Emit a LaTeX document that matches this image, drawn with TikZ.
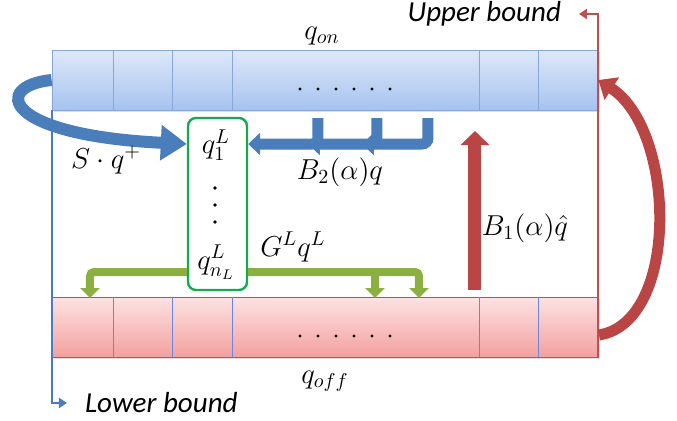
\documentclass[tikz,border=0pt]{standalone}
\usepackage{amsmath}
\usepackage{fontspec}
\setsansfont{Carlito}
\usetikzlibrary{arrows.meta,positioning,shadows}
\definecolor{barblue}{RGB}{137,166,214}
\definecolor{onlight}{RGB}{222,233,250}
\definecolor{ondark}{RGB}{166,194,239}
\definecolor{offred}{RGB}{192,80,77}
\definecolor{offlight}{RGB}{253,226,226}
\definecolor{offdark}{RGB}{244,160,160}
\definecolor{arrblue}{RGB}{74,126,187}
\definecolor{arrred}{RGB}{185,70,68}
\definecolor{arrgreen}{RGB}{140,175,65}
\definecolor{boxgreen}{RGB}{20,170,80}

\begin{document}
\begin{tikzpicture}[x=0.5pt,y=-0.5pt,
every node/.style={font=\Large},
onbar/.style={draw=barblue,top color=onlight,bottom color=ondark,
  minimum width=273pt,minimum height=30pt,inner sep=0pt,
  drop shadow={opacity=0.25,shadow xshift=0.8pt,shadow yshift=-0.8pt}},
offbar/.style={draw=offred,top color=offlight,bottom color=offdark,
  minimum width=273pt,minimum height=30pt,inner sep=0pt,
  drop shadow={opacity=0.25,shadow xshift=0.8pt,shadow yshift=-0.8pt}},
bound/.style={font=\fontsize{14.5}{16}\selectfont\sffamily\itshape},
fatblue/.style={draw=arrblue,line width=5.5pt,rounded corners=3pt,
  -{Triangle[width=11pt,length=6pt]}},
fatgreen/.style={draw=arrgreen,line width=4pt,rounded corners=2pt,
  -{Triangle[width=9.5pt,length=5pt]}}]
\useasboundingbox (0,0) rectangle (677,420);

% the two bars
\node[onbar] (onbar) at (325,80) {};
\node[offbar] (offbar) at (325,327) {};
\foreach \x in {113,172,232,479,538} {
  \draw[barblue] (\x,50) -- (\x,110);
  \draw[barblue!80!blue] (\x,297) -- (\x,357);
}
\foreach \x in {300,318,...,390} {
  \fill (\x,89) circle (0.8pt);
  \fill (\x,336) circle (0.8pt);
}
\node (qon) at (322,36) {$q_{on}$};
\node (qoff) at (325,381) {$q_{off}$};

% bounds
\node[bound,anchor=east] (ub) at (568,14) {Upper bound};
\node[bound,anchor=west] (lb) at (78,403) {Lower bound};
\coordinate (ubtip) at (579,14);
\coordinate (lbtip) at (67,403);
\draw[offred,line width=1pt,-{Triangle[width=5pt,length=4pt]}] (offbar.south east) |- (ubtip);
\draw[arrblue,line width=1pt,-{Triangle[width=5pt,length=4pt]}] (onbar.south west) |- (lbtip);

% local box
\node[draw=boxgreen,line width=1.2pt,rounded corners=4pt,fill=white,
  minimum width=29.5pt,minimum height=86pt] (qbox) at (217.5,204) {};
\node (q1) at (216,145) {$q_1^L$};
\node (qn) at (216,262) {$q_{n_L}^L$};
\foreach \y in {188,205,222} \fill (215,\y) circle (0.9pt);

% G^L arrows
\coordinate (gy) at (0,272);
\coordinate (gl) at (90,298);
\coordinate (gr1) at (375,298);
\coordinate (gr2) at (419,298);
\draw[fatgreen] (qbox.west |- gy) -| (gl);
\draw[fatgreen] (qbox.east |- gy) -| (gr2);
\draw[fatgreen] (gr1 |- gy) -- (gr1);
\node (glq) at (293,247) {$G^Lq^L$};

% B_2 arrows
\coordinate (b1) at (428,118);
\coordinate (b2) at (377,118);
\coordinate (b3) at (318,118);
\coordinate (t1) at (362,144);
\coordinate (t2) at (308,144);
\draw[fatblue] (b3) |- (qbox.east |- t1);
\draw[fatblue] (b2) |- (t2);
\draw[fatblue] (b1) |- (t1);
\node (b2q) at (340,172) {$B_2(\alpha)q$};

% S q+ arrow
\draw[arrblue,line width=6pt,-{Triangle[width=17pt,length=13pt]}]
  (onbar.west) .. controls (-8,86) and (2,135) .. (qbox.west |- t1);
\node (sq) at (106,160) {$S\cdot q^+$};

% B_1 arrows
\coordinate (rb) at (475,290);
\coordinate (rt) at (475,131);
\draw[arrred,line width=6.5pt,-{Triangle[width=14pt,length=7pt]}] (rb) -- (rt);
\node (b1q) at (525,228) {$B_1(\alpha)\hat{q}$};
\coordinate (c0) at (599,335);
\draw[arrred,line width=5.5pt,-{Triangle[width=13pt,length=8pt]}]
  (c0) .. controls (680,322) and (676,130) .. (onbar.east);
\end{tikzpicture}
\end{document}
